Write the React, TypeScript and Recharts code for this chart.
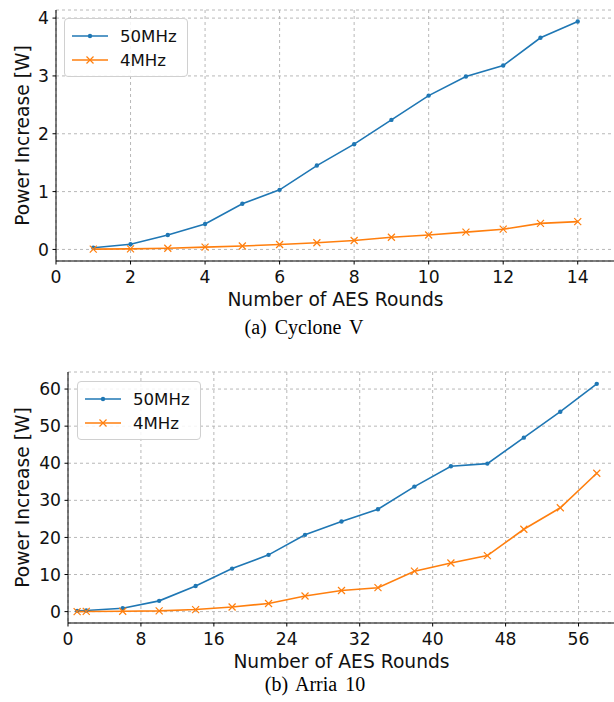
import { CartesianGrid, Label, Legend, Line, LineChart, XAxis, YAxis } from "recharts";

// Cyclone V (top panel)
const roundsCV = [1, 2, 3, 4, 5, 6, 7, 8, 9, 10, 11, 12, 13, 14];
const cv50 = [0.03, 0.09, 0.25, 0.44, 0.79, 1.03, 1.45, 1.82, 2.24, 2.66, 2.99, 3.18, 3.66, 3.94];
const cv4 = [0.005, 0.01, 0.02, 0.04, 0.06, 0.085, 0.115, 0.155, 0.21, 0.25, 0.3, 0.35, 0.45, 0.48];
const cvXTicks = [0, 2, 4, 6, 8, 10, 12, 14];
const cvYTicks = [0, 1, 2, 3, 4];

// Arria 10 (bottom panel)
const roundsA10 = [1, 2, 6, 10, 14, 18, 22, 26, 30, 34, 38, 42, 46, 50, 54, 58];
const a1050 = [0.2, 0.3, 0.9, 2.9, 6.9, 11.6, 15.3, 20.7, 24.3, 27.6, 33.7, 39.2, 39.9, 46.9, 53.9, 61.4];
const a104 = [0.0, 0.05, 0.1, 0.2, 0.55, 1.25, 2.2, 4.2, 5.7, 6.45, 10.9, 13.1, 15.1, 22.2, 28.0, 37.3];
const a10XTicks = [0, 8, 16, 24, 32, 40, 48, 56];
const a10YTicks = [0, 10, 20, 30, 40, 50, 60];

const seriesNames = ["50MHz", "4MHz"];

const BLUE = "#1f77b4";
const ORANGE = "#ff7f0e";
const FONT = "'DejaVu Sans', sans-serif";

const cvData = roundsCV.map((r, i) => ({ r, fast: cv50[i], slow: cv4[i] }));
const a10Data = roundsA10.map((r, i) => ({ r, fast: a1050[i], slow: a104[i] }));

function Cross(props: any) {
  const { cx, cy, stroke } = props;
  if (cx == null || cy == null) return null;
  const s = 3.5;
  return (
    <path
      d={`M${cx - s},${cy - s}L${cx + s},${cy + s}M${cx - s},${cy + s}L${cx + s},${cy - s}`}
      stroke={stroke}
      strokeWidth={1.2}
      fill="none"
    />
  );
}

function LegendBox({ payload }: any) {
  // keep plotting order (recharts sorts by name otherwise)
  const items = [...(payload || [])].sort(
    (a: any, b: any) => seriesNames.indexOf(a.value) - seriesNames.indexOf(b.value)
  );
  return (
    <div
      style={{
        border: "1px solid #d0d0d0",
        borderRadius: 4,
        background: "rgba(255,255,255,0.85)",
        padding: "5px 10px 4px 6px",
        fontFamily: FONT,
        fontSize: 16.6,
        color: "#111",
      }}
    >
      {items.map((p: any) => (
        <div key={p.value} style={{ display: "flex", alignItems: "center", height: 24 }}>
          <svg width={40} height={12} style={{ marginRight: 9 }}>
            <line x1={1} y1={6} x2={37} y2={6} stroke={p.color} strokeWidth={1.6} />
            {p.dataKey === "fast" ? (
              <circle cx={19} cy={6} r={2.2} fill={p.color} />
            ) : (
              <Cross cx={19} cy={6} stroke={p.color} />
            )}
          </svg>
          <span>{p.value}</span>
        </div>
      ))}
    </div>
  );
}

interface PanelProps {
  data: { r: number; fast: number; slow: number }[];
  xDomain: [number, number];
  yDomain: [number, number];
  xTicks: number[];
  yTicks: number[];
  yAxisWidth: number;
  top: number;
  legendPos: { left: number; top: number };
}

function Panel({ data, xDomain, yDomain, xTicks, yTicks, yAxisWidth, top, legendPos }: PanelProps) {
  const tickStyle = { fontSize: 17.2, fontFamily: FONT, fill: "#111" };
  return (
    <div style={{ position: "absolute", left: 0, top }}>
      <LineChart width={615} height={312} data={data} margin={{ top: 10, right: 0, bottom: 0, left: 0 }}>
        <CartesianGrid stroke="#b8b8b8" strokeDasharray="3 3" />
        <XAxis
          dataKey="r"
          type="number"
          domain={xDomain}
          ticks={xTicks}
          allowDataOverflow
          height={51}
          tick={tickStyle}
          tickSize={3.5}
          tickMargin={6}
          stroke="#000"
        >
          <Label
            value="Number of AES Rounds"
            position="insideBottom"
            offset={6}
            style={{ fontSize: 18.7, fontFamily: FONT, fill: "#111" }}
          />
        </XAxis>
        <XAxis
          xAxisId="top"
          orientation="top"
          type="number"
          domain={xDomain}
          allowDataOverflow
          height={0}
          tick={false}
          tickLine={false}
          stroke="#000"
        />
        <YAxis
          type="number"
          domain={yDomain}
          ticks={yTicks}
          allowDataOverflow
          width={yAxisWidth}
          tick={tickStyle}
          tickSize={3.5}
          tickMargin={3.5}
          stroke="#000"
        >
          <Label
            value="Power Increase [W]"
            angle={-90}
            position="insideLeft"
            offset={22}
            style={{ fontSize: 18.7, fontFamily: FONT, fill: "#111", textAnchor: "middle" }}
          />
        </YAxis>
        <Legend
          layout="vertical"
          align="center"
          verticalAlign="middle"
          wrapperStyle={{ left: legendPos.left, top: legendPos.top, width: "auto" }}
          content={LegendBox}
        />
        <Line
          dataKey="fast"
          name={seriesNames[0]}
          stroke={BLUE}
          strokeWidth={1.6}
          dot={{ r: 2.2, fill: BLUE, stroke: "none" }}
          isAnimationActive={false}
        />
        <Line
          dataKey="slow"
          name={seriesNames[1]}
          stroke={ORANGE}
          strokeWidth={1.6}
          dot={<Cross />}
          isAnimationActive={false}
        />
      </LineChart>
    </div>
  );
}

const captionStyle: React.CSSProperties = {
  position: "absolute",
  transform: "translateX(-50%)",
  whiteSpace: "nowrap",
  fontFamily: "'Liberation Serif', 'Times New Roman', serif",
  fontSize: 20,
  lineHeight: 1,
  wordSpacing: 3,
  color: "#000",
};

export default function App() {
  return (
    <div
      style={{
        position: "absolute",
        left: 0,
        top: 0,
        width: 614,
        height: 702,
        overflow: "hidden",
        background: "#fff",
      }}
    >
      <Panel
        data={cvData}
        xDomain={[0, 15]}
        yDomain={[-0.2, 4.14]}
        xTicks={cvXTicks}
        yTicks={cvYTicks}
        yAxisWidth={56}
        top={0}
        legendPos={{ left: 64, top: 18 }}
      />
      <div style={{ ...captionStyle, left: 304, top: 317 }}>(a) Cyclone V</div>
      <Panel
        data={a10Data}
        xDomain={[0, 60]}
        yDomain={[-3.07, 64.6]}
        xTicks={a10XTicks}
        yTicks={a10YTicks}
        yAxisWidth={68}
        top={362}
        legendPos={{ left: 77, top: 381 - 362 }}
      />
      <div style={{ ...captionStyle, left: 315, top: 674 }}>(b) Arria 10</div>
    </div>
  );
}
